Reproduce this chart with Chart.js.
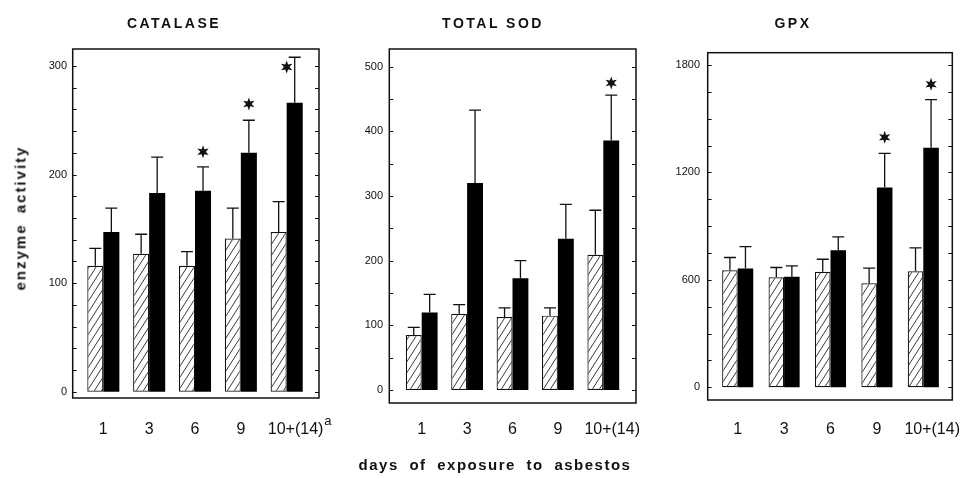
<!DOCTYPE html>
<html lang="en">
<head>
<meta charset="UTF-8">
<title>Enzyme activity after asbestos exposure</title>
<script src="https://cdn.jsdelivr.net/npm/chart.js"></script>
<style>
    body { margin: 0; background: #fff; font-family: 'Liberation Sans', Arial, sans-serif; color: #111; }
    #wrap { position: relative; width: 965px; height: 478px; overflow: hidden; }
    #wrap canvas { position: absolute; left: 0; top: 0; }
    .lbl { position: absolute; white-space: nowrap; font-weight: bold; transform: translate(-50%, -50%); }
    .title { font-size: 14px; letter-spacing: 2.5px; top: 23px; }
    #ylabel { left: 20px; top: 218px; font-size: 15px; letter-spacing: 2px; word-spacing: 4px;
              transform: translate(-50%, -50%) rotate(-90deg); }
    #xlabel { left: 495px; top: 464px; font-size: 15px; letter-spacing: 1.5px; word-spacing: 5px; }
</style>
</head>
<body>
<div id="wrap">
    <canvas id="catalase" width="965" height="478"></canvas>
    <canvas id="sod" width="965" height="478"></canvas>
    <canvas id="gpx" width="965" height="478"></canvas>
    <div class="lbl title" style="left:174px">CATALASE</div>
    <div class="lbl title" style="left:493px">TOTAL SOD</div>
    <div class="lbl title" style="left:793px">GPX</div>
    <div class="lbl" id="ylabel">enzyme activity</div>
    <div class="lbl" id="xlabel">days of exposure to asbestos</div>
</div>

<script>
    // days of exposure (categories)
    const days = ['1', '3', '6', '9', '10+(14)'];

    // catalase: control (hatched) and exposed (black), mean and SD
    const catControl = [116, 127, 116, 141, 147];
    const catControlSd = [16, 18, 13, 28, 28];
    const catExposed = [147, 183, 185, 220, 266];
    const catExposedSd = [22, 33, 22, 30, 42];
    const catStars = [null, null, 221, 265, 299];
    const catTicks = [0, 100, 200, 300];

    // total SOD
    const sodControl = [85, 118, 113, 115, 209];
    const sodControlSd = [12, 14, 14, 12, 69];
    const sodExposed = [120, 320, 173, 234, 386];
    const sodExposedSd = [28, 113, 27, 53, 70];
    const sodStars = [null, null, null, null, 475];
    const sodTicks = [0, 100, 200, 300, 400, 500];

    // GPX
    const gpxControl = [654, 615, 645, 581, 648];
    const gpxControlSd = [71, 54, 70, 84, 131];
    const gpxExposed = [663, 617, 766, 1116, 1338];
    const gpxExposedSd = [123, 61, 74, 190, 268];
    const gpxStars = [null, null, null, 1396, 1692];
    const gpxTicks = [0, 600, 1200, 1800];

    Chart.defaults.font.family = "'Liberation Sans', Arial, sans-serif";
    Chart.defaults.color = '#111';

    const ink = '#111';

    // diagonal hatching for the control bars
    function hatchPattern() {
        const c = document.createElement('canvas');
        c.width = 7;
        c.height = 11;
        const g = c.getContext('2d');
        g.fillStyle = '#fff';
        g.fillRect(0, 0, 7, 11);
        g.strokeStyle = '#222';
        g.lineWidth = 0.9;
        for (const dx of [-7, 0, 7]) {
            g.beginPath();
            g.moveTo(dx, 11);
            g.lineTo(dx + 7, 0);
            g.stroke();
        }
        return g.createPattern(c, 'repeat');
    }

    function drawStar(ctx, cx, cy, r1, r2) {
        ctx.beginPath();
        for (let k = 0; k < 12; k++) {
            const ang = -Math.PI / 2 + k * Math.PI / 6;
            const r = k % 2 ? r2 : r1;
            ctx.lineTo(cx + r * Math.cos(ang), cy + r * Math.sin(ang));
        }
        ctx.closePath();
        ctx.fillStyle = ink;
        ctx.fill();
    }

    // error bars, stars, frame box and inward ticks
    const framePlugin = {
        id: 'frame',
        afterDatasetsDraw(chart) {
            const o = chart.options.plugins.frame;
            const { ctx, chartArea: a, scales: { x, y } } = chart;
            ctx.save();
            ctx.strokeStyle = ink;

            [o.sd0, o.sd1].forEach((sd, i) => {
                const vals = chart.data.datasets[i].data;
                chart.getDatasetMeta(i).data.forEach((bar, j) => {
                    const top = y.getPixelForValue(vals[j] + sd[j]);
                    ctx.lineWidth = 1.3;
                    ctx.beginPath();
                    ctx.moveTo(bar.x, bar.y);
                    ctx.lineTo(bar.x, top);
                    ctx.moveTo(bar.x - 6, top);
                    ctx.lineTo(bar.x + 6, top);
                    ctx.stroke();
                });
            });

            const exposed = chart.data.datasets[1].data;
            const exMeta = chart.getDatasetMeta(1);
            o.stars.forEach((v, j) => {
                if (v == null) return;
                const bar = exMeta.data[j];
                let sx = bar.x;
                // star sits beside the error bar when they overlap
                if (v < exposed[j] + o.sd1[j]) sx -= bar.width / 2;
                drawStar(ctx, sx, y.getPixelForValue(v), 6.5, 2.8);
            });

            const L = a.left - o.frame[0];
            const R = a.right + o.frame[1];
            ctx.lineWidth = 1.5;
            ctx.strokeRect(L, a.top, R - L, a.bottom - a.top);

            ctx.lineWidth = 1.1;
            y.ticks.forEach(t => {
                const py = Math.round(y.getPixelForValue(t.value)) + 0.5;
                ctx.beginPath();
                ctx.moveTo(L, py);
                ctx.lineTo(L + 4, py);
                ctx.moveTo(R - 4, py);
                ctx.lineTo(R, py);
                ctx.stroke();
            });

            if (o.sup) {
                const i = days.length - 1;
                const px = x.getPixelForTick(i);
                ctx.font = "16px 'Liberation Sans', Arial, sans-serif";
                const w = ctx.measureText(x.ticks[i].label).width;
                ctx.font = "13px 'Liberation Sans', Arial, sans-serif";
                ctx.fillStyle = ink;
                ctx.textBaseline = 'middle';
                ctx.textAlign = 'left';
                ctx.fillText(o.sup, px + w / 2 + 1, a.bottom + o.xPad + 1);
            }
            ctx.restore();
        }
    };

    function makePanel(id, control, controlSd, exposed, exposedSd, stars, labelTicks, lay) {
        const top = labelTicks[labelTicks.length - 1];
        new Chart(document.getElementById(id), {
            type: 'bar',
            data: {
                labels: days,
                datasets: [
                    {
                        label: 'control',
                        data: control,
                        backgroundColor: hatchPattern(),
                        borderColor: ink,
                        borderWidth: 1.2,
                        borderSkipped: false
                    },
                    {
                        label: 'asbestos',
                        data: exposed,
                        backgroundColor: '#000',
                        borderWidth: 0
                    }
                ]
            },
            options: {
                responsive: false,
                animation: false,
                devicePixelRatio: 1,
                categoryPercentage: lay.cat,
                barPercentage: 1.0,
                layout: { padding: lay.pad },
                scales: {
                    x: {
                        grid: { display: false, drawTicks: false },
                        border: { display: false },
                        ticks: {
                            font: { size: 16 },
                            padding: lay.xPad,
                            autoSkip: false,
                            maxRotation: 0,
                            callback: (v, i) => i === days.length - 1 ? '    ' + days[i] : days[i]
                        },
                        afterFit: s => {
                            s.height = 40;
                            // labels may run past the plot edge, as in the figure
                            s.paddingLeft = 0;
                            s.paddingRight = 0;
                        }
                    },
                    y: {
                        min: lay.min,
                        max: lay.max,
                        grid: { display: false, drawTicks: false },
                        border: { display: false },
                        ticks: {
                            autoSkip: false,
                            font: { size: 11 },
                            padding: lay.yPad,
                            callback: v => labelTicks.includes(v) ? v : ''
                        },
                        // minor ticks every lay.step, labels only on labelTicks
                        afterBuildTicks: s => {
                            const t = [];
                            for (let v = 0; v <= top; v += lay.step) t.push({ value: v });
                            s.ticks = t;
                        },
                        afterFit: s => { s.width = 50; }
                    }
                },
                plugins: {
                    legend: { display: false },
                    tooltip: { enabled: false },
                    frame: {
                        sd0: controlSd,
                        sd1: exposedSd,
                        stars: stars,
                        frame: lay.frame,
                        xPad: lay.xPad,
                        sup: lay.sup
                    }
                }
            },
            plugins: [framePlugin]
        });
    }

    makePanel('catalase', catControl, catControlSd, catExposed, catExposedSd, catStars, catTicks, {
        pad: { left: 30.4, right: 655.4, top: 49, bottom: 40 },
        frame: [7.7, 9.4], cat: 0.7, xPad: 22.4, yPad: 13.4,
        min: -5.8, max: 315.6, step: 20, sup: 'a'
    });

    makePanel('sod', sodControl, sodControlSd, sodExposed, sodExposedSd, sodStars, sodTicks, {
        pad: { left: 349, right: 339, top: 49, bottom: 35 },
        frame: [9.7, 10], cat: 0.7, xPad: 17.4, yPad: 16,
        min: -20.1, max: 527.4, step: 50
    });

    makePanel('gpx', gpxControl, gpxControlSd, gpxExposed, gpxExposedSd, gpxStars, gpxTicks, {
        pad: { left: 664.5, right: 18.5, top: 52.7, bottom: 38 },
        frame: [6.8, 5.8], cat: 0.67, xPad: 20.4, yPad: 14.5,
        min: -70.9, max: 1868.6, step: 150
    });
</script>
</body>
</html>
